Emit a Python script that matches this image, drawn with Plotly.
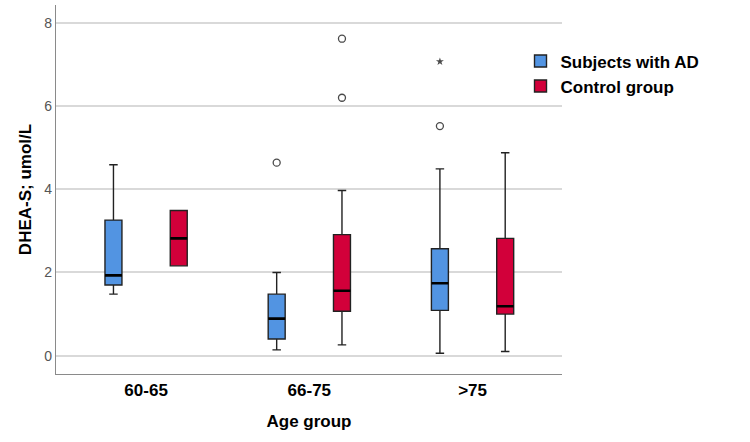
import plotly.graph_objects as go

# ---- data ----
age_groups = ["60-65", "66-75", ">75"]

ad_q1 = [1.70, 0.40, 1.09]
ad_median = [1.93, 0.89, 1.74]
ad_q3 = [3.26, 1.48, 2.57]
ad_lower = [1.48, 0.14, 0.06]
ad_upper = [4.59, 2.00, 4.49]
ad_outliers = [[], [4.64], [5.52]]
ad_extremes = [[], [], [7.07]]

ctrl_q1 = [2.16, 1.07, 1.00]
ctrl_median = [2.82, 1.56, 1.19]
ctrl_q3 = [3.49, 2.91, 2.82]
ctrl_lower = [2.16, 0.26, 0.10]
ctrl_upper = [3.49, 3.97, 4.88]
ctrl_outliers = [[], [6.20, 7.62], []]
ctrl_extremes = [[], [], []]

series = [
    ("Subjects with AD", "#5294E2", ad_q1, ad_median, ad_q3, ad_lower, ad_upper, ad_outliers, ad_extremes),
    ("Control group", "#D2003A", ctrl_q1, ctrl_median, ctrl_q3, ctrl_lower, ctrl_upper, ctrl_outliers, ctrl_extremes),
]

FONT = "Liberation Sans, Arial, sans-serif"


def subset(idx, arr):
    return [arr[i] for i in idx]


fig = go.Figure()
for name, color, q1, med, q3, lo, hi, outl, extr in series:
    # main box with whiskers
    fig.add_trace(go.Box(
        name=name, x=age_groups, orientation="v",
        q1=q1, median=med, q3=q3, lowerfence=lo, upperfence=hi,
        offsetgroup=name, legendgroup=name, showlegend=True,
        fillcolor=color, line=dict(color="#222222", width=1.4),
        whiskerwidth=0.5, boxpoints=False,
    ))
    # thick black median line
    fig.add_trace(go.Box(
        name=name, x=age_groups, orientation="v",
        q1=med, median=med, q3=med, lowerfence=med, upperfence=med,
        offsetgroup=name, legendgroup=name, showlegend=False,
        fillcolor="rgba(0,0,0,0)", line=dict(color="#000000", width=2.6),
        whiskerwidth=0, boxpoints=False, hoverinfo="skip",
    ))
    # outliers (open circles) and extremes (stars), drawn as box sample points
    for pts, sym, size in ((outl, "circle-open", 7), (extr, "star", 6)):
        idx = [i for i, p in enumerate(pts) if len(p) > 0]
        if not idx:
            continue
        fig.add_trace(go.Box(
            name=name, x=subset(idx, age_groups), y=subset(idx, pts), orientation="v",
            q1=subset(idx, q1), median=subset(idx, med), q3=subset(idx, q3),
            lowerfence=subset(idx, lo), upperfence=subset(idx, hi),
            offsetgroup=name, legendgroup=name, showlegend=False,
            fillcolor="rgba(0,0,0,0)", line=dict(color="rgba(0,0,0,0)", width=0),
            whiskerwidth=0,
            boxpoints="outliers", jitter=0, pointpos=0,
            marker=dict(symbol=sym, size=size, color="#4a4a4a",
                        line=dict(color="#4a4a4a", width=1.3 if sym == "circle-open" else 0)),
        ))

fig.update_layout(
    width=750, height=442,
    margin=dict(l=56, r=188, t=5, b=68, pad=0),
    paper_bgcolor="white", plot_bgcolor="white",
    boxmode="group", boxgap=0.2, boxgroupgap=0.74,
    font=dict(family=FONT, color="#000000"),
    legend=dict(
        x=0.918, y=0.896, xanchor="left", yanchor="top",
        font=dict(family=FONT, size=17, weight="bold", color="#000000"),
        bgcolor="rgba(0,0,0,0)", tracegroupgap=0, itemwidth=30,
    ),
    xaxis=dict(
        type="category", range=[-0.552, 2.548],
        showline=True, linecolor="#8a8a8a", linewidth=1.2,
        showgrid=False, zeroline=False, ticks="",
        tickfont=dict(family=FONT, size=17, weight="bold", color="#000000"),
        title=dict(text="Age group", standoff=16,
                   font=dict(family=FONT, size=17, weight="bold", color="#000000")),
    ),
    yaxis=dict(
        range=[-0.44, 8.43], tickvals=[0, 2, 4, 6, 8],
        showline=True, linecolor="#8a8a8a", linewidth=1.2,
        showgrid=True, gridcolor="#d9d9d9", gridwidth=1.6,
        zeroline=False, ticks="",
        tickfont=dict(family=FONT, size=14, color="#555555"),
        title=dict(text="DHEA-S; umol/L", standoff=8,
                   font=dict(family=FONT, size=17, weight="bold", color="#000000")),
    ),
)

fig.write_html("out.html")
